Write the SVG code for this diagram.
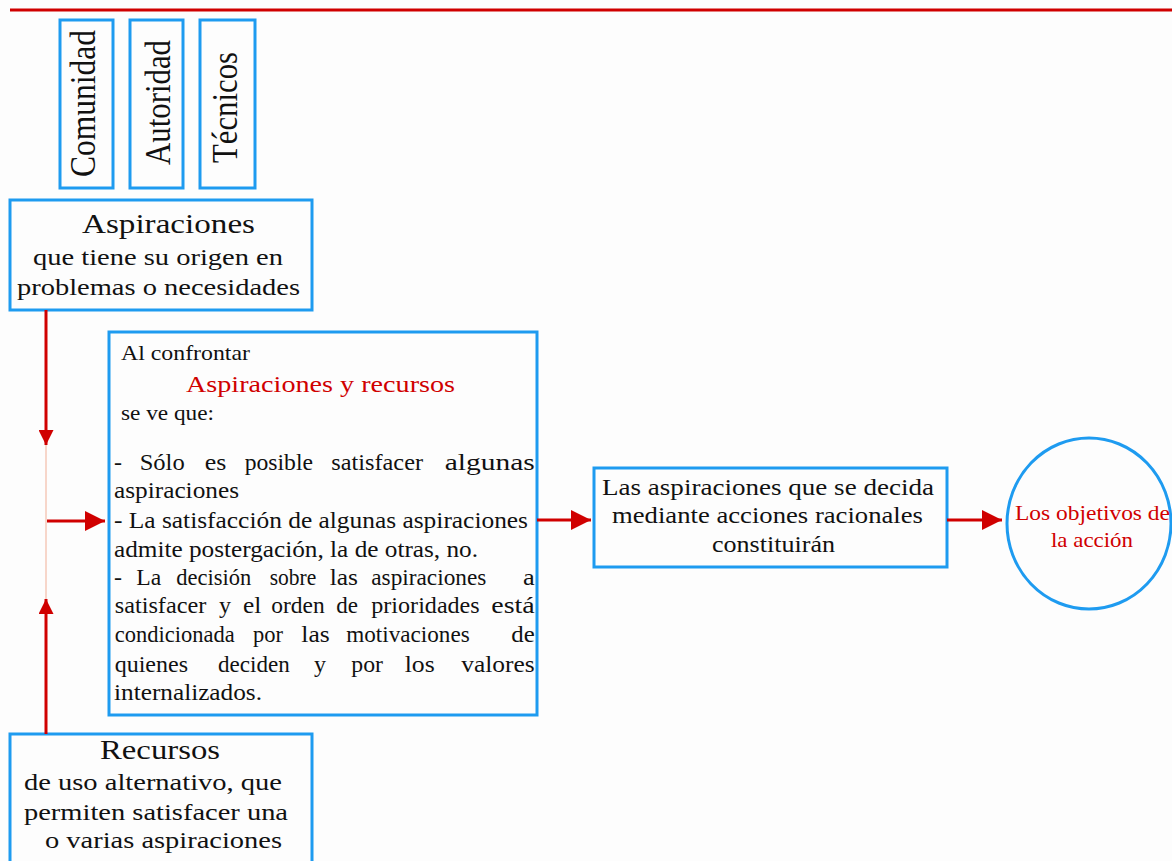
<svg xmlns="http://www.w3.org/2000/svg" width="1172" height="861" viewBox="0 0 1172 861">
<style>
.box{fill:#fdfdfd;stroke:#1e9bf0;stroke-width:3}
.t{font-family:"Liberation Serif","Times New Roman",Times,serif;fill:#111}
.r{fill:#d00000}
.ln{stroke:#d00000;stroke-width:3;fill:none}
.b text{font-family:"Liberation Serif","Times New Roman",Times,serif;font-size:24px;fill:#111}
</style>
<defs>
<marker id="ah" viewBox="0 0 20 20" refX="20" refY="10" markerWidth="20" markerHeight="20" markerUnits="userSpaceOnUse" orient="auto">
<path d="M0,0 L20,10 L0,20 Z" fill="#d00000"/>
</marker>
<marker id="av" viewBox="0 0 16 15" refX="15" refY="7.5" markerWidth="16" markerHeight="15" markerUnits="userSpaceOnUse" orient="auto">
<path d="M0,0 L15,7.5 L0,15 Z" fill="#d00000"/>
</marker>
</defs>
<rect width="1172" height="861" fill="#fdfdfd"/>
<line x1="10" y1="10" x2="1172" y2="10" stroke="#d00000" stroke-width="3"/>

<g id="comunidad">
<rect class="box" x="60" y="20" width="53" height="168"/>
<text class="t" font-size="30" text-anchor="middle" textLength="147" lengthAdjust="spacingAndGlyphs" transform="translate(95 103.5) scale(1.16 1) rotate(-90)">Comunidad</text>
</g>
<g id="autoridad">
<rect class="box" x="130" y="20" width="53" height="168"/>
<text class="t" font-size="30" text-anchor="middle" textLength="125" lengthAdjust="spacingAndGlyphs" transform="translate(170 102.5) scale(1.16 1) rotate(-90)">Autoridad</text>
</g>
<g id="tecnicos">
<rect class="box" x="200" y="20" width="55" height="168"/>
<text class="t" font-size="30" text-anchor="middle" textLength="111" lengthAdjust="spacingAndGlyphs" transform="translate(237 107.5) scale(1.16 1) rotate(-90)">Técnicos</text>
</g>

<g id="aspiraciones">
<rect class="box" x="10" y="200" width="302" height="110"/>
<text class="t" font-size="27" x="82" y="233" textLength="173" lengthAdjust="spacingAndGlyphs">Aspiraciones</text>
<text class="t" font-size="24" x="33" y="265" textLength="250" lengthAdjust="spacingAndGlyphs">que tiene su origen en</text>
<text class="t" font-size="24" x="17" y="295" textLength="283" lengthAdjust="spacingAndGlyphs">problemas o necesidades</text>
</g>

<g id="recursos">
<rect class="box" x="10" y="734" width="302" height="140"/>
<text class="t" font-size="27" x="100" y="759" textLength="120" lengthAdjust="spacingAndGlyphs">Recursos</text>
<text class="t" font-size="24" x="24" y="790" textLength="258" lengthAdjust="spacingAndGlyphs">de uso alternativo, que</text>
<text class="t" font-size="24" x="24" y="820" textLength="264" lengthAdjust="spacingAndGlyphs">permiten satisfacer una</text>
<text class="t" font-size="24" x="45" y="848" textLength="237" lengthAdjust="spacingAndGlyphs">o varias aspiraciones</text>
</g>

<g id="confrontar">
<rect class="box" x="109" y="332" width="428" height="383"/>
<text class="t" font-size="21" x="121" y="360" textLength="129" lengthAdjust="spacingAndGlyphs">Al confrontar</text>
<text class="t r" font-size="24" x="186" y="392" textLength="269" lengthAdjust="spacingAndGlyphs">Aspiraciones y recursos</text>
<text class="t" font-size="20" x="121" y="420" textLength="93" lengthAdjust="spacingAndGlyphs">se ve que:</text>
<g class="b">
<text x="114" y="470">-</text>
<text x="139.7" y="470" textLength="45" lengthAdjust="spacingAndGlyphs">Sólo</text>
<text x="204.7" y="470" textLength="21.6" lengthAdjust="spacingAndGlyphs">es</text>
<text x="244.7" y="470" textLength="68.3" lengthAdjust="spacingAndGlyphs">posible</text>
<text x="331.3" y="470" textLength="91.7" lengthAdjust="spacingAndGlyphs">satisfacer</text>
<text x="444.7" y="470" textLength="90" lengthAdjust="spacingAndGlyphs">algunas</text>
<text x="114" y="498" textLength="125" lengthAdjust="spacingAndGlyphs">aspiraciones</text>
<text x="114" y="528" textLength="414" lengthAdjust="spacingAndGlyphs">- La satisfacción de algunas aspiraciones</text>
<text x="114" y="557" textLength="364" lengthAdjust="spacingAndGlyphs">admite postergación, la de otras, no.</text>
<text x="114" y="585">-</text>
<text x="136.3" y="585" textLength="25" lengthAdjust="spacingAndGlyphs">La</text>
<text x="176.3" y="585" textLength="75" lengthAdjust="spacingAndGlyphs">decisión</text>
<text x="269.7" y="585" textLength="46.6" lengthAdjust="spacingAndGlyphs">sobre</text>
<text x="329.7" y="585" textLength="28.3" lengthAdjust="spacingAndGlyphs">las</text>
<text x="371.3" y="585" textLength="115" lengthAdjust="spacingAndGlyphs">aspiraciones</text>
<text x="523" y="585" textLength="11.7" lengthAdjust="spacingAndGlyphs">a</text>
<text x="114.7" y="613" textLength="91.6" lengthAdjust="spacingAndGlyphs">satisfacer</text>
<text x="219" y="613">y</text>
<text x="243" y="613" textLength="18.3" lengthAdjust="spacingAndGlyphs">el</text>
<text x="271.3" y="613" textLength="53.4" lengthAdjust="spacingAndGlyphs">orden</text>
<text x="336.3" y="613" textLength="21.7" lengthAdjust="spacingAndGlyphs">de</text>
<text x="371.3" y="613" textLength="108.4" lengthAdjust="spacingAndGlyphs">prioridades</text>
<text x="491.3" y="613" textLength="43.4" lengthAdjust="spacingAndGlyphs">está</text>
<text x="114.7" y="642" textLength="120" lengthAdjust="spacingAndGlyphs">condicionada</text>
<text x="253" y="642" textLength="30" lengthAdjust="spacingAndGlyphs">por</text>
<text x="301.3" y="642" textLength="28.4" lengthAdjust="spacingAndGlyphs">las</text>
<text x="346.3" y="642" textLength="123.4" lengthAdjust="spacingAndGlyphs">motivaciones</text>
<text x="511.3" y="642" textLength="23.4" lengthAdjust="spacingAndGlyphs">de</text>
<text x="114.7" y="672" textLength="73.3" lengthAdjust="spacingAndGlyphs">quienes</text>
<text x="218" y="672" textLength="71.7" lengthAdjust="spacingAndGlyphs">deciden</text>
<text x="314" y="672">y</text>
<text x="351.3" y="672" textLength="31.7" lengthAdjust="spacingAndGlyphs">por</text>
<text x="404.7" y="672" textLength="30" lengthAdjust="spacingAndGlyphs">los</text>
<text x="461.3" y="672" textLength="73.4" lengthAdjust="spacingAndGlyphs">valores</text>
<text x="114" y="700" textLength="148" lengthAdjust="spacingAndGlyphs">internalizados.</text>
</g>
</g>

<g id="constituiran">
<rect class="box" x="594" y="468" width="353" height="99"/>
<text class="t" font-size="23" x="602" y="495" textLength="332" lengthAdjust="spacingAndGlyphs">Las aspiraciones que se decida</text>
<text class="t" font-size="23" x="612" y="523" textLength="311" lengthAdjust="spacingAndGlyphs">mediante acciones racionales</text>
<text class="t" font-size="23" x="712" y="552" textLength="123" lengthAdjust="spacingAndGlyphs">constituirán</text>
</g>

<g id="objetivos">
<ellipse cx="1089" cy="523.5" rx="82" ry="85.5" fill="#fdfdfd" stroke="#1e9bf0" stroke-width="3"/>
<text class="t r" font-size="21" x="1015" y="520" textLength="155" lengthAdjust="spacingAndGlyphs">Los objetivos de</text>
<text class="t r" font-size="21" x="1051" y="547" textLength="82" lengthAdjust="spacingAndGlyphs">la acción</text>
</g>

<g id="connectors">
<line x1="46" y1="445" x2="46" y2="599" stroke="#f5c8b8" stroke-width="1.5"/>
<line class="ln" x1="46" y1="310" x2="46" y2="445" marker-end="url(#av)"/>
<line class="ln" x1="46" y1="734" x2="46" y2="599" marker-end="url(#av)"/>
<line class="ln" x1="47" y1="521" x2="105" y2="521" marker-end="url(#ah)"/>
<line class="ln" x1="537" y1="520" x2="591" y2="520" marker-end="url(#ah)"/>
<line class="ln" x1="947" y1="520" x2="1002" y2="520" marker-end="url(#ah)"/>
</g>
</svg>
